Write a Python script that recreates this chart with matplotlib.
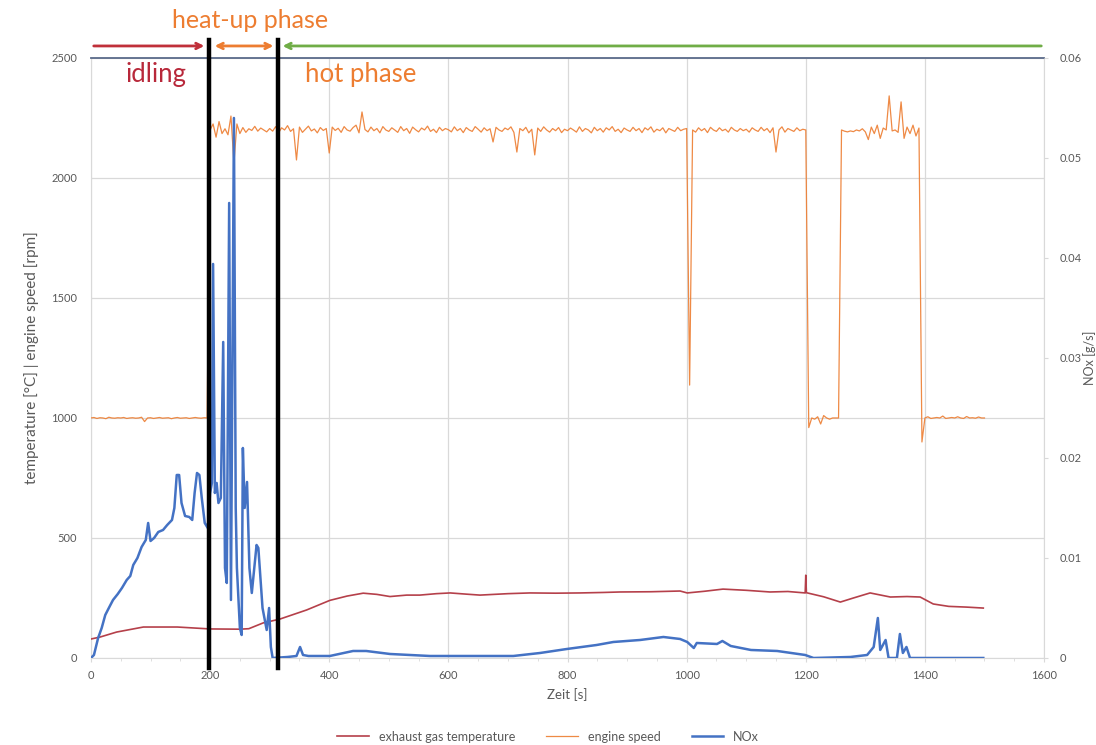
import numpy as np
import matplotlib
matplotlib.use('Agg')
import matplotlib.pyplot as plt

plt.rcParams['font.family'] = ['Lato', 'DejaVu Sans']

# ============================================================
# Data
# ============================================================
# exhaust gas temperature [°C]
t_temp = [0, 15, 43, 88, 145, 200, 250, 265, 289, 317, 362, 401, 430, 457, 480,
          502, 530, 552, 580, 603, 630, 653, 700, 737, 780, 821, 860, 888, 940,
          989, 1001, 1030, 1061, 1100, 1140, 1170, 1199, 1200, 1201, 1230, 1258,
          1280, 1308, 1342, 1370, 1392, 1414, 1440, 1470, 1498]
temp = [79, 87, 108, 129, 129, 121, 120, 122, 146, 162, 200, 240, 258, 270, 265,
        256, 262, 262, 268, 271, 266, 262, 268, 271, 270, 271, 273, 275, 276,
        279, 271, 278, 287, 282, 275, 277, 271, 345, 272, 255, 233,
        250, 271, 254, 256, 254, 225, 215, 212, 208]

# engine speed [rpm], sampled every 5 s per segment
rpm_idle1 = [1000, 1002, 998, 1001, 1000, 997, 1003, 1000, 999, 1001,
             1000, 1002, 998, 1000, 1001, 999, 1000, 1003, 985, 1000,
             1001, 998, 1000, 1002, 999, 1000, 1001, 997, 1000, 1002,
             999, 1000, 1001, 998, 1000, 1002, 1000, 999, 1001, 1000]
rpm_hot1 = [2200, 2225, 2170, 2235, 2185, 2205, 2180, 2258, 2062, 2225,
            2185, 2210, 2190, 2205, 2198, 2215, 2195, 2208, 2200, 2192,
            2206, 2195, 2214, 2188, 2209, 2200, 2218, 2194, 2205, 2075,
            2212, 2190, 2203, 2216, 2196, 2204, 2188, 2210, 2198, 2206,
            2104, 2212, 2198, 2207, 2190, 2214, 2200, 2195, 2210, 2220,
            2188, 2275, 2202, 2192, 2212, 2197, 2206, 2188, 2214, 2200,
            2194, 2209, 2200, 2190, 2214, 2197, 2206, 2186, 2212, 2201,
            2192, 2208, 2200, 2216, 2194, 2203, 2189, 2211, 2197, 2206,
            2201, 2192, 2213, 2197, 2206, 2189, 2210, 2200, 2194, 2214,
            2203, 2191, 2209, 2197, 2205, 2150, 2211, 2200, 2194, 2208,
            2201, 2213, 2190, 2108, 2206, 2197, 2211, 2188, 2203, 2096,
            2208, 2194, 2213, 2200, 2191, 2206, 2197, 2210, 2189, 2203,
            2197, 2208, 2200, 2191, 2213, 2194, 2206, 2200, 2188, 2211,
            2197, 2206, 2191, 2209, 2200, 2214, 2194, 2203, 2189, 2208,
            2200, 2194, 2211, 2197, 2206, 2189, 2209, 2200, 2213, 2191,
            2203, 2197, 2209, 2188, 2206, 2200, 2194, 2211, 2197, 2203,
            2206, 1137, 2200, 2191, 2209, 2197, 2206, 2189, 2211, 2200,
            2194, 2209, 2197, 2203, 2191, 2211, 2200, 2194, 2206, 2197,
            2203, 2191, 2209, 2200, 2194, 2211, 2197, 2206, 2189, 2209,
            2108, 2200, 2213, 2191, 2206, 2200, 2194, 2209, 2197, 2203,
            2200]
rpm_idle2 = [960, 1000, 995, 1005, 975, 1010, 1000, 995, 1000, 1000, 1000]
rpm_hot2 = [2200, 2195, 2192, 2196, 2193, 2200, 2196, 2205, 2192, 2160,
            2212, 2185, 2220, 2165, 2208, 2200, 2342, 2196, 2200, 2190,
            2317, 2165, 2212, 2185, 2220, 2175, 2208]
rpm_idle3 = [900, 1000, 1005, 998, 1000, 1002, 1000, 1008, 998, 1000, 1002,
             1000, 1005, 1000, 998, 1006, 1000, 1001, 999, 1004, 1000, 1000]

t_rpm = np.concatenate([np.arange(0, 200, 5), np.arange(200, 1205, 5),
                        np.arange(1205, 1260, 5), np.arange(1260, 1395, 5),
                        np.arange(1395, 1505, 5)])
rpm = np.concatenate([rpm_idle1, rpm_hot1, rpm_idle2, rpm_hot2, rpm_idle3])

# NOx [g/s]
t_nox = [0, 5, 12, 18, 24, 30, 37, 45, 52, 60, 66, 71, 78, 85, 92, 96, 100,
         106, 113, 121, 128, 136, 140, 144, 148, 152, 158, 165, 170, 174, 178,
         182, 186, 191, 196, 200, 203, 205, 208, 211, 214, 218, 222, 225, 228,
         232, 235, 240, 243, 245, 250, 253, 255, 258, 262, 266, 270, 278, 281,
         288, 295, 299, 302, 305, 330, 345, 351, 356, 365, 401, 440, 462, 502,
         569, 653, 709, 754, 799, 849, 877, 922, 961, 989, 1001, 1012, 1017,
         1051, 1060, 1074, 1108, 1152, 1199, 1213, 1275, 1303, 1314, 1321,
         1325, 1334, 1339, 1353, 1358, 1363, 1369, 1375, 1498]
nox = [0.0, 0.0003, 0.0020, 0.0030, 0.0043, 0.0050, 0.0058, 0.0064, 0.0070,
       0.0078, 0.0082, 0.0093, 0.0100, 0.0111, 0.0118, 0.0135, 0.0117,
       0.0120, 0.0126, 0.0128, 0.0133, 0.0138, 0.0150, 0.0183, 0.0183,
       0.0155, 0.0142, 0.0141, 0.0138, 0.0165, 0.0185, 0.0183, 0.0160,
       0.0135, 0.0130, 0.0165, 0.0175, 0.0394, 0.0165, 0.0175, 0.0155,
       0.0160, 0.0316, 0.0090, 0.0075, 0.0455, 0.0058, 0.0540, 0.0150,
       0.0090, 0.0030, 0.0023, 0.0210, 0.0150, 0.0176, 0.0090, 0.0065,
       0.0113, 0.0110, 0.0050, 0.0028, 0.0050, 0.0011, 0.0, 0.0001, 0.0002,
       0.0011, 0.0003, 0.0002, 0.0002, 0.0007, 0.0007, 0.0004, 0.0002,
       0.0002, 0.0002, 0.0005, 0.0009, 0.0013, 0.0016, 0.0018, 0.0021,
       0.0019, 0.0016, 0.0010, 0.0015, 0.0014, 0.0017, 0.0012, 0.0008,
       0.0007, 0.0003, 0.0, 0.0001, 0.0003, 0.0011, 0.0040, 0.0008, 0.0018,
       0.0, 0.0, 0.0024, 0.0005, 0.0011, 0.0, 0.0]

x_ticks = [0, 200, 400, 600, 800, 1000, 1200, 1400, 1600]
y_ticks = [0, 500, 1000, 1500, 2000, 2500]
nox_ticks = [0, 0.01, 0.02, 0.03, 0.04, 0.05, 0.06]
nox_labels = ['0', '0.01', '0.02', '0.03', '0.04', '0.05', '0.06']
phase_bounds = [198, 314]

# ============================================================
# Colours
# ============================================================
C_TEMP = '#B5404A'
C_RPM = '#ED7D31'
C_NOX = '#4472C4'
C_GRID = '#D9D9D9'
C_TXT = '#595959'

# ============================================================
# Plot
# ============================================================
fig = plt.figure(figsize=(10.96, 7.45), dpi=100)
ax = fig.add_axes([0.083, 0.1168, 0.8696, 0.8054])

ax.plot(t_rpm, rpm, color=C_RPM, lw=0.9, alpha=0.9, label='engine speed', zorder=3)
ax.plot(t_temp, temp, color=C_TEMP, lw=1.2, label='exhaust gas temperature', zorder=4)

ax.set_xlim(0, 1600)
ax.set_ylim(0, 2500)
ax.set_xticks(x_ticks)
ax.set_yticks(y_ticks)
ax.set_xticks(np.arange(0, 1601, 50), minor=True)
ax.grid(True, color=C_GRID, lw=0.9)
ax.set_axisbelow(True)
ax.tick_params(axis='y', length=0, labelsize=8, colors=C_TXT, pad=10)
ax.tick_params(axis='x', which='major', length=3, color=C_GRID, labelsize=8,
               colors=C_TXT, pad=6)
ax.tick_params(axis='x', which='minor', length=2, color=C_GRID)
ax.set_xlabel('Zeit [s]', fontsize=9.5, color=C_TXT, labelpad=5)
ax.set_ylabel('temperature [°C] | engine speed [rpm]', fontsize=11,
              color=C_TXT, labelpad=9)
for s in ['left', 'bottom', 'right']:
    ax.spines[s].set_color(C_GRID)
ax.spines['top'].set_color('#5B6B8A')
ax.spines['top'].set_linewidth(1.3)

ax2 = ax.twinx()
ax2.plot(t_nox, nox, color=C_NOX, lw=1.8, label='NOx', zorder=5)
ax2.set_ylim(0, 0.06)
ax2.set_yticks(nox_ticks)
ax2.set_yticklabels(nox_labels)
ax2.tick_params(axis='y', length=3, color=C_GRID, labelsize=8, colors=C_TXT, pad=8)
for s in ax2.spines.values():
    s.set_visible(False)
fig.text(0.9945, 0.52, 'NOx [g/s]', rotation=90, fontsize=9, color=C_TXT,
         ha='center', va='center')

# phase markers
trans = ax2.get_xaxis_transform()
for tb in phase_bounds:
    ax2.plot([tb, tb], [-0.017, 1.03], color='black', lw=3.2, transform=trans,
             clip_on=False, zorder=10)

arrow_y = 1.02
ax2.annotate('', xy=(195, arrow_y), xytext=(0, arrow_y), xycoords=trans,
             annotation_clip=False,
             arrowprops=dict(arrowstyle='->', color='#C0303A', lw=2.0))
ax2.annotate('', xy=(203, arrow_y), xytext=(311, arrow_y), xycoords=trans,
             annotation_clip=False,
             arrowprops=dict(arrowstyle='<->', color=C_RPM, lw=2.0))
ax2.annotate('', xy=(317, arrow_y), xytext=(1600, arrow_y), xycoords=trans,
             annotation_clip=False,
             arrowprops=dict(arrowstyle='->', color='#70AD47', lw=2.0))

ax2.text(267, 1.063, 'heat-up phase', transform=trans, ha='center', va='center',
         fontsize=18, color=C_RPM)
ax2.text(109, 0.972, 'idling', transform=trans, ha='center', va='center',
         fontsize=18.5, color='#B8283A')
ax2.text(453, 0.972, 'hot phase', transform=trans, ha='center', va='center',
         fontsize=18.5, color=C_RPM)

# legend
h1, l1 = ax.get_legend_handles_labels()
h2, l2 = ax2.get_legend_handles_labels()
handles = [h1[1], h1[0], h2[0]]
labels = [l1[1], l1[0], l2[0]]
fig.legend(handles, labels, loc='lower center', bbox_to_anchor=(0.5, -0.012),
           ncol=3, frameon=False, fontsize=9, labelcolor=C_TXT,
           handlelength=2.5, columnspacing=2.5)

fig.savefig('out.png', dpi=100, facecolor='white')
